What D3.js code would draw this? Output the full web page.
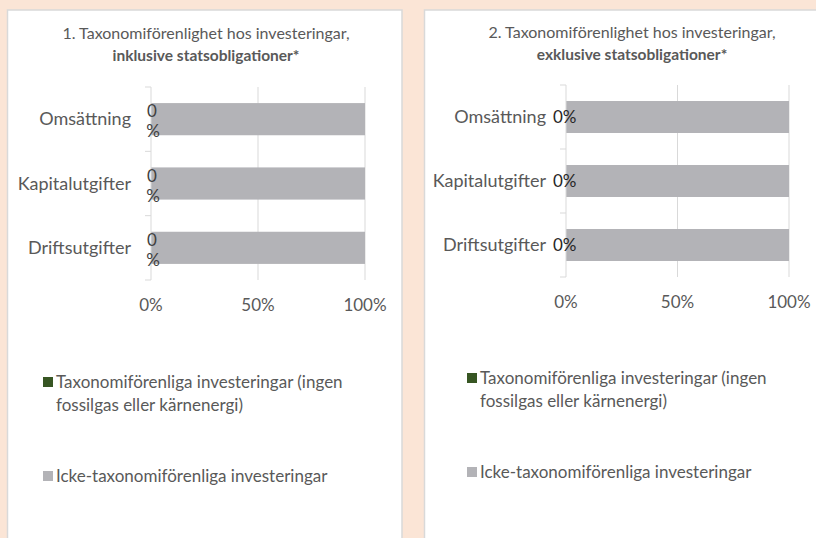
<!DOCTYPE html>
<html>
<head>
<meta charset="utf-8">
<script src="https://cdn.jsdelivr.net/npm/d3@7"></script>
<style>
  body { margin: 0; background: #fbe5d6; }
  svg { display: block; font-family: Lato, "Open Sans", sans-serif; }
</style>
</head>
<body>
<div id="chart"></div>
<script>
// data
const categories = ["Omsättning", "Kapitalutgifter", "Driftsutgifter"];
const alignedIncl = [0, 0, 0];
const otherIncl = [100, 100, 100];
const alignedExcl = [0, 0, 0];
const otherExcl = [100, 100, 100];
const xTicks = [0, 50, 100];
const seriesNames = ["Taxonomiförenliga investeringar (ingen fossilgas eller kärnenergi)", "Icke-taxonomiförenliga investeringar"];
const titleLine1 = ["1. Taxonomiförenlighet hos investeringar,", "2. Taxonomiförenlighet hos investeringar,"];
const titleLine2 = ["inklusive statsobligationer*", "exklusive statsobligationer*"];

const W = 816, H = 538;
const colors = ["#375623", "#b3b3b7"];
const textGrey = "#595959";

const svg = d3.select("#chart").append("svg")
    .attr("width", W)
    .attr("height", H);

svg.append("rect").attr("width", W).attr("height", H).attr("fill", "#fbe5d6");

// panel settings, one per chart
const panels = [
  { x: 7.5, w: 394.5, x0: 151, x1: 365, y0: 87, y1: 280, titleX: 206, titleY: 33, axisY: 305,
    aligned: alignedIncl, other: otherIncl, wrapLabel: true,
    legX: 43, legY: [382, 476] },
  { x: 424.5, w: 400, x0: 566, x1: 789, y0: 85, y1: 277, titleX: 632, titleY: 32, axisY: 302,
    aligned: alignedExcl, other: otherExcl, wrapLabel: false,
    legX: 467, legY: [378, 472] }
];

panels.forEach(function (p, pi) {
  // white card
  svg.append("rect")
      .attr("x", p.x).attr("y", 10)
      .attr("width", p.w).attr("height", H)
      .attr("fill", "#ffffff")
      .attr("stroke", "#d9d9d9")
      .attr("stroke-width", 1.5);

  // title
  const t = svg.append("text")
      .attr("text-anchor", "middle")
      .attr("fill", textGrey);
  t.append("tspan").attr("x", p.titleX).attr("y", p.titleY + 6)
      .style("font-size", "16px").text(titleLine1[pi]);
  t.append("tspan").attr("x", p.titleX).attr("y", p.titleY + 28)
      .style("font-size", "15.5px").style("font-weight", "bold").text(titleLine2[pi]);

  const x = d3.scaleLinear().domain([0, 100]).range([p.x0, p.x1]);
  const y = d3.scaleBand().domain(categories).range([p.y0, p.y1])
      .paddingInner(0.5).paddingOuter(0.25);

  const g = svg.append("g");

  // gridlines
  g.selectAll(".grid")
      .data(xTicks.slice(1))
      .enter().append("line")
      .attr("x1", d => x(d)).attr("x2", d => x(d))
      .attr("y1", p.y0).attr("y2", p.y1)
      .attr("stroke", "#d9d9d9").attr("stroke-width", 1);

  // stacked bars
  const stackData = categories.map((c, i) => ({ cat: c, a: p.aligned[i], b: p.other[i] }));
  g.selectAll(".barA")
      .data(stackData)
      .enter().append("rect")
      .attr("x", x(0))
      .attr("y", d => y(d.cat))
      .attr("width", d => x(d.a) - x(0))
      .attr("height", y.bandwidth())
      .attr("fill", colors[0]);
  g.selectAll(".barB")
      .data(stackData)
      .enter().append("rect")
      .attr("x", d => x(d.a))
      .attr("y", d => y(d.cat))
      .attr("width", d => x(d.a + d.b) - x(d.a))
      .attr("height", y.bandwidth())
      .attr("fill", colors[1]);

  // category axis line and ticks between bands
  g.append("line")
      .attr("x1", x(0)).attr("x2", x(0))
      .attr("y1", p.y0).attr("y2", p.y1)
      .attr("stroke", "#d9d9d9").attr("stroke-width", 1);
  const bounds = d3.range(categories.length + 1).map(i => p.y0 + i * y.step());
  g.selectAll(".ytick")
      .data(bounds)
      .enter().append("line")
      .attr("x1", x(0) - 6).attr("x2", x(0))
      .attr("y1", d => d).attr("y2", d => d)
      .attr("stroke", "#d9d9d9").attr("stroke-width", 1);

  // category labels
  g.selectAll(".cat")
      .data(categories)
      .enter().append("text")
      .attr("x", x(0) - 20)
      .attr("y", d => y(d) + y.bandwidth() / 2)
      .attr("dy", "0.35em")
      .attr("text-anchor", "end")
      .attr("fill", textGrey)
      .style("font-size", "18px")
      .text(d => d);

  // data labels for the aligned series
  const fmt = d => d3.format(".0f")(d) + "%";
  stackData.forEach(function (d) {
    const cy = y(d.cat) + y.bandwidth() / 2;
    if (p.wrapLabel) {
      const lbl = g.append("text")
          .attr("text-anchor", "middle")
          .attr("fill", "#404040")
          .style("font-size", "17px");
      lbl.append("tspan").attr("x", x(d.a / 2) + 1).attr("y", cy - 2).text(fmt(d.a).slice(0, -1));
      lbl.append("tspan").attr("x", x(d.a / 2) + 2).attr("y", cy + 18).text("%");
    } else {
      g.append("text")
          .attr("x", x(d.a / 2) - 13)
          .attr("y", cy)
          .attr("dy", "0.35em")
          .attr("fill", "#262626")
          .style("font-size", "17px")
          .text(fmt(d.a));
    }
  });

  // value axis labels
  g.selectAll(".xlab")
      .data(xTicks)
      .enter().append("text")
      .attr("x", d => x(d))
      .attr("y", p.axisY)
      .attr("dy", "0.35em")
      .attr("text-anchor", "middle")
      .attr("fill", textGrey)
      .style("font-size", "17px")
      .text(d => d + "%");

  // legend
  const leg = svg.append("g");
  seriesNames.forEach(function (name, i) {
    leg.append("rect")
        .attr("x", p.legX).attr("y", p.legY[i] - 5)
        .attr("width", 10).attr("height", 10)
        .attr("fill", colors[i]);
    const lt = leg.append("text")
        .attr("fill", textGrey)
        .style("font-size", "17px");
    if (i === 0) {
      lt.append("tspan").attr("x", p.legX + 13).attr("y", p.legY[i] + 6).text("Taxonomiförenliga investeringar (ingen");
      lt.append("tspan").attr("x", p.legX + 13).attr("y", p.legY[i] + 29).text("fossilgas eller kärnenergi)");
    } else {
      lt.append("tspan").attr("x", p.legX + 13).attr("y", p.legY[i] + 6).text(name);
    }
  });
});
</script>
</body>
</html>
